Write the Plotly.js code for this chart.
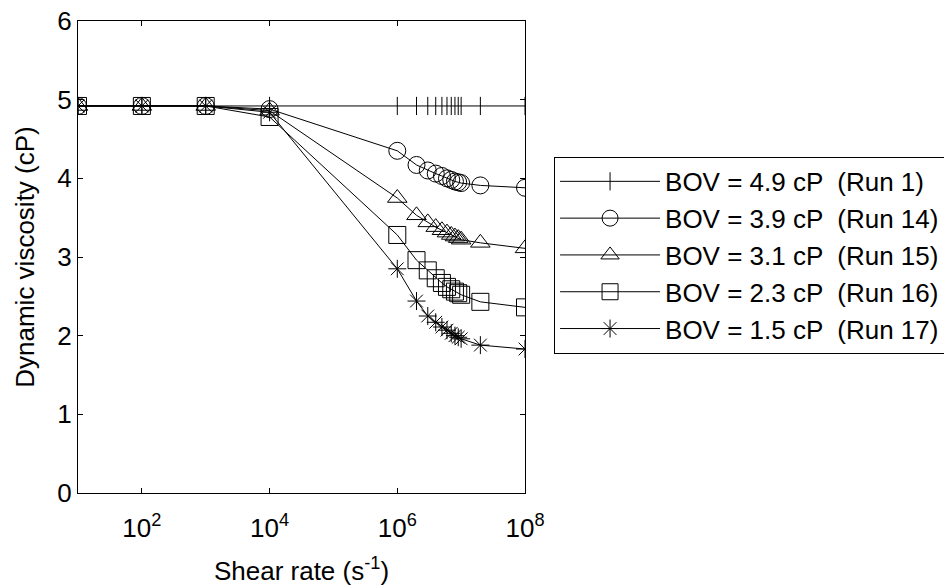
<!DOCTYPE html>
<html>
<head>
<meta charset="utf-8">
<script src="https://cdn.plot.ly/plotly-3.0.1.min.js"></script>
<style>
html,body{margin:0;padding:0;background:#fff;}
#chart{width:944px;height:588px;}
</style>
</head>
<body>
<div id="chart"></div>
<script>
// Shear rate (s^-1)
const shearRate = [1e1, 1e2, 1e3, 1e4, 1e6, 2e6, 3e6, 4e6, 5e6, 6e6, 7e6, 8e6, 9e6, 1e7, 2e7, 1e8];

// Dynamic viscosity (cP) for each run
const run1  = [4.92, 4.92, 4.92, 4.92, 4.92, 4.92, 4.92, 4.92, 4.92, 4.92, 4.92, 4.92, 4.92, 4.92, 4.92, 4.92];
const run14 = [4.92, 4.92, 4.92, 4.88, 4.35, 4.17, 4.10, 4.06, 4.03, 4.00, 3.98, 3.96, 3.95, 3.94, 3.91, 3.88];
const run15 = [4.92, 4.92, 4.92, 4.86, 3.75, 3.53, 3.44, 3.38, 3.34, 3.31, 3.28, 3.26, 3.24, 3.22, 3.18, 3.11];
const run16 = [4.92, 4.92, 4.92, 4.78, 3.28, 2.96, 2.83, 2.73, 2.67, 2.62, 2.59, 2.56, 2.54, 2.52, 2.43, 2.36];
const run17 = [4.92, 4.92, 4.92, 4.84, 2.85, 2.44, 2.25, 2.17, 2.11, 2.07, 2.03, 2.00, 1.98, 1.96, 1.88, 1.83];

const seriesNames = [
  "BOV = 4.9 cP  (Run 1)",
  "BOV = 3.9 cP  (Run 14)",
  "BOV = 3.1 cP  (Run 15)",
  "BOV = 2.3 cP  (Run 16)",
  "BOV = 1.5 cP  (Run 17)"
];

const xTickVals = [1e2, 1e4, 1e6, 1e8];
const xTickText = ["10<sup>2</sup>", "10<sup>4</sup>", "10<sup>6</sup>", "10<sup>8</sup>"];

const series = [run1, run14, run15, run16, run17];
const symbols = ["line-ns-open", "circle-open", "triangle-up-open", "square-open", "asterisk-open"];
const sizes = [13, 17, 17, 17, 15];

const traces = series.map((ys, i) => ({
  x: shearRate,
  y: ys,
  name: seriesNames[i],
  type: "scatter",
  mode: "lines+markers",
  line: {color: "#000", width: 1},
  marker: {symbol: symbols[i], size: sizes[i], color: "#000", line: {color: "#000", width: 1}}
}));

const FONT = "Liberation Sans, Arial, Helvetica, sans-serif";

const layout = {
  width: 944,
  height: 588,
  paper_bgcolor: "#fff",
  plot_bgcolor: "#fff",
  font: {family: FONT, size: 26, color: "#000"},
  margin: {l: 78, r: 419, t: 21, b: 95, autoexpand: false},
  showlegend: true,
  legend: {
    x: 1.065, y: 0.712, xanchor: "left", yanchor: "top",
    bordercolor: "#000", borderwidth: 1, bgcolor: "#fff",
    font: {family: FONT, size: 26, color: "#000"},
    itemwidth: 100,
    tracegroupgap: 0
  },
  xaxis: {
    type: "log",
    range: [1, 8],
    tickvals: xTickVals,
    ticktext: xTickText,
    ticks: "inside",
    ticklen: 5,
    tickcolor: "#000",
    ticklabelstandoff: 12,
    showline: true,
    linecolor: "#000",
    linewidth: 1,
    mirror: "ticks",
    showgrid: false,
    zeroline: false,
    tickfont: {family: FONT, size: 26, color: "#000"},
    title: {text: "Shear rate (s<sup>-1</sup>)", font: {family: FONT, size: 26, color: "#000"}, standoff: 19}
  },
  yaxis: {
    range: [0, 6],
    tick0: 0,
    dtick: 1,
    ticks: "inside",
    ticklen: 5,
    tickcolor: "#000",
    showline: true,
    linecolor: "#000",
    linewidth: 1,
    mirror: "ticks",
    showgrid: false,
    zeroline: false,
    tickfont: {family: FONT, size: 26, color: "#000"},
    title: {text: "Dynamic viscosity (cP)", font: {family: FONT, size: 26, color: "#000"}, standoff: 15}
  }
};

Plotly.newPlot("chart", traces, layout, {displayModeBar: false, staticPlot: true});
</script>
</body>
</html>
